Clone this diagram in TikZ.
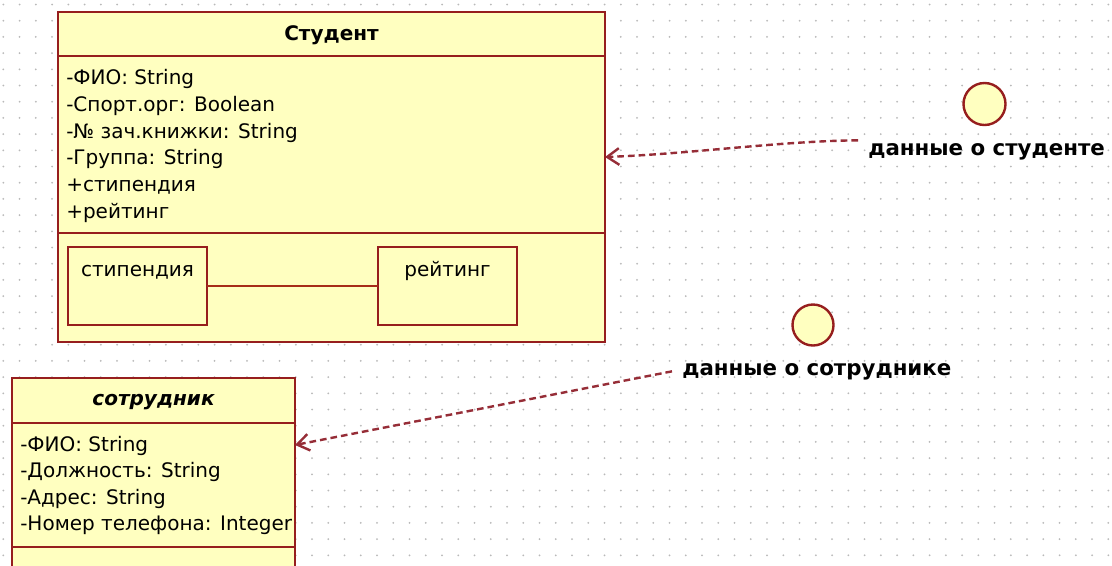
\documentclass[tikz,border=0pt]{standalone}
\usepackage{fontspec}
\setmainfont{DejaVu Sans}
\usetikzlibrary{arrows.meta,calc}

\definecolor{umlfill}{RGB}{255,255,192}
\definecolor{umlline}{RGB}{150,30,30}
\definecolor{deplink}{RGB}{150,45,55}
\definecolor{griddot}{RGB}{185,185,185}

\begin{document}
\begin{tikzpicture}[x=0.75pt,y=-0.75pt,
  box/.style={draw=umlline, fill=umlfill, line width=1.8pt, rectangle,
    inner sep=0pt, outer sep=0pt, anchor=north west},
  sep/.style={draw=umlline, line width=1.8pt},
  attr/.style={anchor=base west, inner sep=0pt, font=\fontsize{15}{18}\selectfont},
  title/.style={anchor=base, inner sep=0pt, font=\fontsize{15}{18}\selectfont\bfseries},
  iface/.style={circle, draw=umlline, fill=umlfill, line width=1.8pt, inner sep=0pt},
  ifacelabel/.style={anchor=base west, inner sep=0pt, font=\fontsize{16}{19}\selectfont\bfseries},
  dep/.style={draw=deplink, line width=1.8pt, dash pattern=on 5pt off 3pt,
    -{Straight Barb[length=9pt,width=12.5pt]}},
  link/.style={draw=umlline!85!orange, line width=1.8pt}
]
\clip (0,0) rectangle (1112,565);
\fill[white] (0,0) rectangle (1112,565);

% dotted drawing grid
\foreach \i in {0,...,68}
  \foreach \j in {0,...,34}
    \fill[griddot] (3.3+16.25*\i, 4.5+16.2*\j) circle[radius=1];

% class Студент
\node[box, minimum width=410.25pt, minimum height=247.5pt] (student) at (58,12) {};
\draw[sep] ($(student.north west)+(0,44)$) -- ($(student.north east)+(0,44)$);
\draw[sep] ($(student.north west)+(0,221)$) -- ($(student.north east)+(0,221)$);
\node[title] (stitle) at (331.5,40) {Студент};
\node[attr] (sa1) at (66,84) {-ФИО: String};
\node[attr] (sa2) at (66,111) {-Спорт.орг: Boolean};
\node[attr] (sa3) at (66,138) {-№ зач.книжки: String};
\node[attr] (sa4) at (66,164) {-Группа: String};
\node[attr] (sa5) at (66,191) {+стипендия};
\node[attr] (sa6) at (66,218) {+рейтинг};

% nested parts
\node[box, minimum width=104.25pt, minimum height=58.5pt] (stip) at (68,247) {};
\node[box, minimum width=104.25pt, minimum height=58.5pt] (rate) at (378,247) {};
\draw[link] (stip) -- (rate);
\node[attr, anchor=base] at ($(stip.north)+(0,29)$) {стипендия};
\node[attr, anchor=base] at ($(rate.north)+(0,29)$) {рейтинг};

% class сотрудник
\node[box, minimum width=212.25pt, minimum height=181.5pt] (emp) at (12,378) {};
\draw[sep] ($(emp.north west)+(0,45)$) -- ($(emp.north east)+(0,45)$);
\draw[sep] ($(emp.north west)+(0,169)$) -- ($(emp.north east)+(0,169)$);
\node[title, font=\fontsize{15}{18}\selectfont\bfseries\itshape] (etitle) at (153.5,405) {сотрудник};
\node[attr] (ea1) at (20,451) {-ФИО: String};
\node[attr] (ea2) at (20,477) {-Должность: String};
\node[attr] (ea3) at (20,504) {-Адрес: String};
\node[attr] (ea4) at (20,530) {-Номер телефона: Integer};

% interfaces
\node[iface, minimum size=31.5pt] (ist) at (984.5,104) {};
\node[ifacelabel] (lst) at (868,155) {данные о студенте};
\node[iface, minimum size=30.75pt] (iemp) at (813,325) {};
\node[ifacelabel] (lemp) at (682,375) {данные о сотруднике};

% dependencies
\draw[dep] ($(lst.west)+(-10,-11)$) .. controls (780,141) and (690,154) .. ($(student.north east)+(0,145)$);
\draw[dep] ($(lemp.west)+(-10,0)$) -- ($(emp.north east)+(0,67)$);
\end{tikzpicture}
\end{document}
